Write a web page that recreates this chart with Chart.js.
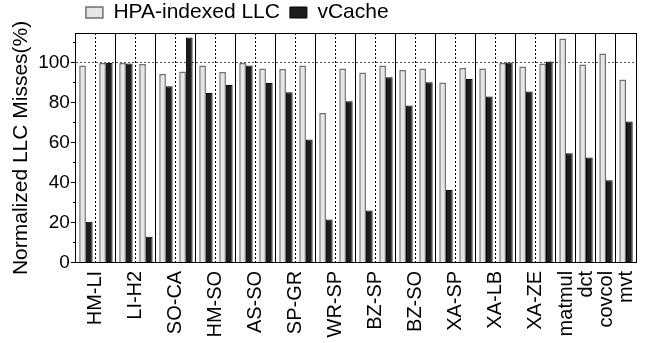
<html>
<head>
  <script src="https://cdn.jsdelivr.net/npm/chart.js@4.4.0/dist/chart.umd.min.js"></script>
</head>

<body style="padding: 0; margin: 0; background: #fff;">

<canvas id="chart" width="654" height="343"></canvas>

<script>
  // workload groups along the x axis and how many bar pairs each one holds
  const groups = ['HM-LI', 'LI-H2', 'SO-CA', 'HM-SO', 'AS-SO', 'SP-GR', 'WR-SP', 'BZ-SP', 'BZ-SO', 'XA-SP', 'XA-LB', 'XA-ZE', 'matmul', 'dct', 'covcol', 'mvt']
  const groupSizes = [2, 2, 2, 2, 2, 2, 2, 2, 2, 2, 2, 2, 1, 1, 1, 1]

  // normalized LLC misses (%), one value per bar pair, left to right
  const hpaIndexed = [98.7, 100, 100, 99.5, 94.5, 95.7, 98.7, 95.5, 100, 97.2, 97, 98.7, 75, 97.3, 95.2, 98.8, 96.5, 97.2, 90.2, 97.5, 97.2, 100, 98.2, 99.7, 112.2, 99.3, 104.7, 91.7]
  const vCache = [20.5, 100, 99.7, 13, 88.3, 112.8, 85, 89, 98.8, 90, 85.3, 61.7, 21.7, 80.8, 26.2, 92.8, 78.7, 90.3, 36.5, 92, 83.2, 100.3, 85.7, 100.7, 54.8, 52.7, 41.3, 70.7]

  const yMax = 115
  const yTicks = [0, 10, 20, 30, 40, 50, 60, 70, 80, 90, 100, 110, 115]

  // slot names, label positions and separators worked out from the groups
  const slots = []
  const labelPos = []
  const solidLines = []
  const dottedLines = []
  let cursor = 0
  groups.forEach((g, i) => {
    for (let k = 0; k < groupSizes[i]; k++) slots.push(g + ' ' + (k + 1))
    labelPos.push(cursor + groupSizes[i] / 2)
    if (groupSizes[i] === 2) dottedLines.push(cursor + 1)
    cursor += groupSizes[i]
    solidLines.push(cursor)
  })
  const gridPos = solidLines.concat(dottedLines)
  const xTickPos = [...new Set(gridPos.concat(labelPos))].sort((a, b) => a - b)

  const font = 'Liberation Sans, Arial, sans-serif'
  const clear = 'rgba(0,0,0,0)'
  const tickVal = ctx => ctx.tick ? ctx.tick.value : null

  new Chart(document.getElementById('chart').getContext('2d'), {
    type: 'bar',
    data: {
      labels: slots,
      datasets: [
        {label: 'HPA-indexed LLC', data: hpaIndexed, backgroundColor: '#e6e6e6', borderColor: '#707070', borderWidth: 1.5, xAxisID: 'x', yAxisID: 'y'},
        {label: 'vCache', data: vCache, backgroundColor: '#1c1c1c', borderColor: '#000', borderWidth: 1, xAxisID: 'x', yAxisID: 'y'},
      ]
    },
    options: {
      responsive: false,
      animation: false,
      devicePixelRatio: 1,
      categoryPercentage: 0.67,
      barPercentage: 1.0,
      layout: {padding: {left: 1, right: 18, top: -8, bottom: -2.5}},
      plugins: {
        tooltip: {enabled: false},
        legend: {
          position: 'top',
          align: 'start',
          fullSize: false,
          labels: {boxWidth: 17, boxHeight: 11, padding: 10, color: '#000', font: {family: font, size: 21}},
        },
      },
      scales: {
        x: {type: 'category', display: false, offset: true},
        xg: {
          type: 'linear', position: 'bottom', min: 0, max: slots.length, offset: false,
          afterBuildTicks: axis => { axis.ticks = xTickPos.map(v => ({value: v})) },
          afterFit: axis => { axis.paddingLeft = 0; axis.paddingRight = 0 },
          ticks: {
            autoSkip: false, maxRotation: 90, minRotation: 90, padding: 8, color: '#000',
            font: {family: font, size: 20},
            callback: v => labelPos.includes(v) ? groups[labelPos.indexOf(v)] : '',
          },
          grid: {offset: false, drawTicks: false, lineWidth: 1, color: ctx => gridPos.includes(tickVal(ctx)) ? '#000' : clear},
          border: {display: true, color: '#000', width: 1, dash: ctx => dottedLines.includes(tickVal(ctx)) ? [2, 2] : []},
        },
        y: {
          min: 0, max: yMax,
          afterBuildTicks: axis => { axis.ticks = yTicks.map(v => ({value: v})) },
          ticks: {
            autoSkip: false, padding: 1, color: '#000', font: {family: font, size: 19},
            callback: v => (v % 20 === 0 && v <= 100) ? v : '',
          },
          grid: {
            tickLength: 5,
            color: ctx => tickVal(ctx) === 100 ? '#555' : tickVal(ctx) === yMax ? '#000' : clear,
            tickColor: ctx => tickVal(ctx) === yMax ? clear : '#000',
            tickBorderDash: ctx => tickVal(ctx) % 20 === 10 ? [0, 2, 3, 10] : [],
          },
          border: {display: true, color: '#000', width: 1, dash: ctx => tickVal(ctx) === 100 ? [2, 2] : []},
          title: {display: true, text: 'Normalized LLC Misses(%)', color: '#000', font: {family: font, size: 21}, padding: {top: 8, bottom: 3}},
        },
      }
    }
  })
</script>
</body>
</html>
